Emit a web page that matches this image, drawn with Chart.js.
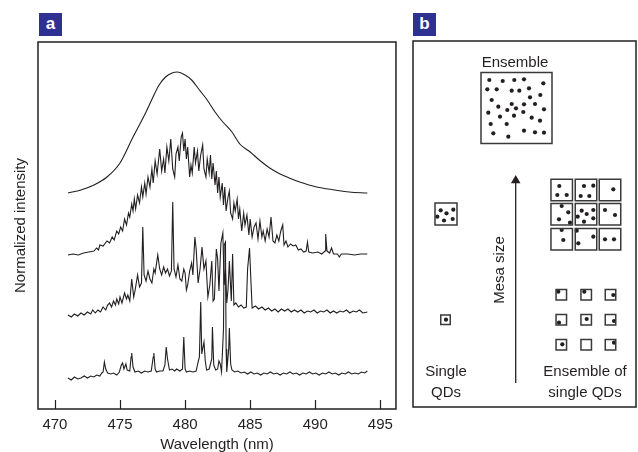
<!DOCTYPE html>
<html>
<head>
<meta charset="utf-8">
<script src="https://cdn.jsdelivr.net/npm/chart.js@4.4.0/dist/chart.umd.min.js"></script>
<style>
  body { margin: 0; background: #fff; width: 638px; height: 452px; position: relative; overflow: hidden; font-family: "Liberation Sans", Arial, sans-serif; }
  #chartA { position: absolute; left: 0; top: 0; }
  #chartB { position: absolute; left: 400px; top: 0; }
  .tag { position: absolute; top: 13px; width: 23px; height: 23px; background: #2e3192; color: #fff; font-weight: bold; font-size: 17px; line-height: 22px; text-align: center; }
</style>
</head>
<body>
<canvas id="chartA" width="400" height="452"></canvas>
<canvas id="chartB" width="238" height="452"></canvas>
<div class="tag" style="left:39px">a</div>
<div class="tag" style="left:413px">b</div>
<script>
// panel a: spectra, x = wavelength (nm), y = stacked intensity (arb. units)
const wavelengthTicks = [470, 475, 480, 485, 490, 495];

const ensembleNm = [471.0, 472.0, 473.0, 474.0, 475.0, 476.0, 477.0, 477.5, 478.0, 478.5, 479.0, 479.4, 480.0, 480.5, 481.1, 481.7, 482.3, 482.9, 483.6, 484.2, 485.0, 485.7, 486.5, 487.3, 488.0, 488.8, 490.1, 491.5, 492.6, 494.0];
const ensembleI = [216, 219, 224, 232, 246, 272, 297, 311, 324, 332, 336, 337, 334, 329, 319, 309, 297, 287, 277, 265, 257, 249, 241, 235, 231, 227, 222, 219, 217, 216];

const largeMesaNm = [471.0, 471.4, 471.8, 472.2, 472.6, 473.0, 473.2, 473.35, 473.45, 473.7, 474.0, 474.2, 474.4, 474.55, 474.75, 474.9, 475.05, 475.2, 475.35, 475.5, 475.65, 475.75, 475.9, 476.0, 476.1, 476.2, 476.35, 476.5, 476.65, 476.75, 476.9, 477.0, 477.15, 477.3, 477.45, 477.55, 477.7, 477.85, 478.05, 478.2, 478.35, 478.45, 478.6, 478.75, 478.9, 479.05, 479.2, 479.3, 479.45, 479.55, 479.7, 479.8, 479.9, 480.0, 480.1, 480.2, 480.35, 480.45, 480.55, 480.7, 480.8, 480.95, 481.05, 481.2, 481.35, 481.45, 481.6, 481.7, 481.85, 481.95, 482.05, 482.15, 482.3, 482.4, 482.5, 482.6, 482.7, 482.85, 482.95, 483.05, 483.15, 483.3, 483.4, 483.5, 483.65, 483.75, 483.85, 484.0, 484.1, 484.2, 484.35, 484.5, 484.6, 484.75, 484.9, 485.0, 485.15, 485.3, 485.45, 485.6, 485.75, 485.9, 486.0, 486.15, 486.3, 486.45, 486.6, 486.75, 486.9, 487.05, 487.2, 487.35, 487.5, 487.6, 487.75, 487.9, 488.1, 488.3, 488.5, 488.7, 488.9, 489.1, 489.3, 489.4, 489.5, 489.8, 490.2, 490.5, 490.75, 490.8, 490.9, 491.1, 491.25, 491.4, 491.7, 491.85, 492.0, 492.5, 493.0, 493.5, 494.0];
const largeMesaI = [154, 155, 154, 156, 157, 158, 161, 159, 164, 163, 168, 166, 172, 169, 178, 175, 182, 178, 190, 184, 196, 192, 205, 198, 210, 200, 214, 206, 222, 212, 226, 215, 232, 222, 240, 226, 248, 235, 260, 238, 250, 236, 262, 248, 270, 240, 232, 255, 262, 248, 272, 276, 258, 270, 250, 262, 232, 244, 236, 262, 246, 258, 238, 254, 264, 240, 232, 250, 236, 254, 230, 246, 224, 238, 216, 232, 212, 226, 204, 222, 198, 212, 218, 196, 190, 206, 198, 210, 190, 200, 178, 196, 184, 194, 174, 190, 172, 182, 186, 170, 188, 172, 178, 168, 180, 172, 192, 168, 166, 174, 168, 178, 184, 164, 168, 162, 165, 163, 164, 159, 160, 157, 158, 167, 157, 156, 157, 155, 158, 175, 158, 156, 161, 155, 155, 152, 155, 155, 154, 155, 155];

const smallMesaNm = [471.0, 471.25, 471.5, 471.75, 472.0, 472.25, 472.5, 472.75, 472.9, 473.1, 473.3, 473.5, 473.7, 473.9, 474.05, 474.2, 474.35, 474.5, 474.65, 474.75, 474.9, 475.0, 475.15, 475.35, 475.5, 475.6, 475.75, 475.9, 476.05, 476.15, 476.35, 476.5, 476.65, 476.75, 476.85, 477.0, 477.15, 477.3, 477.45, 477.6, 477.7, 477.9, 478.05, 478.2, 478.35, 478.5, 478.65, 478.8, 478.95, 479.05, 479.15, 479.3, 479.45, 479.6, 479.75, 479.9, 480.0, 480.1, 480.2, 480.35, 480.5, 480.6, 480.75, 480.85, 481.0, 481.15, 481.3, 481.45, 481.6, 481.75, 481.9, 482.05, 482.15, 482.25, 482.4, 482.5, 482.6, 482.75, 482.9, 483.0, 483.1, 483.2, 483.3, 483.4, 483.55, 483.65, 483.75, 483.9, 484.1, 484.3, 484.5, 484.7, 484.8, 484.95, 485.05, 485.15, 485.4, 485.65, 485.9, 486.15, 486.4, 486.65, 486.9, 487.15, 487.4, 487.65, 487.9, 488.15, 488.4, 488.65, 488.9, 489.15, 489.4, 489.65, 489.9, 490.15, 490.4, 490.65, 490.9, 491.15, 491.4, 491.65, 491.9, 492.15, 492.4, 492.65, 492.9, 493.15, 493.4, 493.65, 494.0];
const smallMesaI = [94, 92, 95, 93, 96, 94, 97, 95, 99, 96, 99, 97, 102, 99, 104, 106, 102, 108, 104, 110, 105, 112, 106, 116, 110, 114, 108, 130, 112, 118, 134, 122, 126, 182, 134, 128, 138, 130, 126, 140, 136, 154, 140, 134, 142, 136, 140, 133, 138, 207, 140, 132, 144, 130, 128, 140, 136, 119, 124, 138, 146, 134, 172, 160, 126, 140, 162, 140, 148, 112, 124, 148, 108, 110, 160, 150, 118, 166, 176, 124, 140, 106, 120, 148, 108, 155, 104, 106, 102, 104, 101, 102, 140, 161, 130, 101, 103, 100, 102, 99, 101, 98, 100, 97, 100, 98, 100, 97, 99, 97, 99, 96, 98, 97, 99, 96, 98, 97, 99, 96, 98, 96, 98, 97, 99, 96, 98, 97, 99, 96, 97];

const singleNm = [471.0, 471.25, 471.5, 471.75, 472.0, 472.25, 472.5, 472.75, 473.0, 473.2, 473.45, 473.6, 473.7, 473.8, 473.9, 474.05, 474.3, 474.5, 474.75, 474.95, 475.1, 475.2, 475.3, 475.45, 475.55, 475.75, 475.85, 475.9, 476.0, 476.15, 476.4, 476.65, 476.9, 477.15, 477.4, 477.55, 477.6, 477.7, 477.8, 478.05, 478.3, 478.45, 478.55, 478.65, 478.8, 479.0, 479.2, 479.35, 479.6, 479.8, 479.9, 480.0, 480.1, 480.35, 480.6, 480.85, 481.0, 481.1, 481.2, 481.28, 481.35, 481.45, 481.55, 481.65, 481.85, 482.05, 482.1, 482.2, 482.35, 482.5, 482.6, 482.7, 482.8, 482.95, 483.0, 483.1, 483.15, 483.2, 483.35, 483.4, 483.5, 483.6, 483.8, 484.05, 484.3, 484.55, 484.8, 485.05, 485.3, 485.55, 485.8, 486.05, 486.3, 486.55, 486.8, 487.05, 487.3, 487.55, 487.8, 488.05, 488.3, 488.55, 488.8, 489.05, 489.3, 489.55, 489.8, 490.05, 490.3, 490.55, 490.8, 491.05, 491.3, 491.55, 491.8, 492.05, 492.3, 492.55, 492.8, 493.05, 493.3, 493.55, 493.8, 494.0];
const singleI = [31, 29, 32, 30, 31, 33, 31, 33, 32, 34, 33, 36, 37, 47, 40, 36, 35, 36, 34, 37, 44, 46, 40, 45, 39, 38, 52, 56, 42, 37, 38, 36, 38, 37, 38, 52, 56, 40, 37, 38, 38, 44, 62, 50, 39, 40, 38, 40, 38, 40, 72, 40, 37, 38, 37, 38, 47, 52, 107, 55, 60, 67, 48, 39, 40, 50, 82, 44, 39, 40, 48, 45, 37, 80, 164, 167, 60, 37, 60, 81, 45, 39, 37, 38, 36, 37, 35, 37, 35, 36, 34, 36, 35, 37, 35, 36, 34, 36, 35, 37, 35, 36, 34, 36, 35, 37, 35, 36, 34, 36, 35, 37, 35, 36, 34, 36, 35, 37, 35, 36, 35, 37, 36, 38];

// panel b: schematic, coordinates in diagram units inside the frame
const diagramW = 223, diagramH = 366;
const mesaX = [103.5, 33, 32.5, 148.7, 173, 197, 148.7, 173, 197, 148.7, 173, 197, 148.3, 173.2, 197.5, 148.3, 173.2, 197.5, 148.3, 173.2, 197.5];
const mesaY = [67, 173, 278.7, 149, 149, 149, 173.2, 173.2, 173.2, 198.2, 198.2, 198.2, 253.7, 253.7, 253.7, 278.7, 278.7, 278.7, 303.7, 303.7, 303.7];
const mesaSide = [71, 22, 9.5, 21.5, 21.5, 21.5, 21.5, 21.5, 21.5, 21.5, 21.5, 21.5, 10.5, 10.5, 10.5, 10.5, 10.5, 10.5, 10.5, 10.5, 10.5];

const dotX = [76.3, 89.7, 101.3, 111, 130.3, 74.3, 83.7, 98.7, 106.3, 116, 127.3, 78.7, 85.3, 98.7, 103, 111, 117, 122, 131, 75.3, 87, 94.3, 101, 110.3, 118.7, 77.7, 93.7, 127, 80.3, 95.3, 111, 122, 131,
  27.7, 33.5, 40.3, 24.3, 31, 39.7, 33,
  146.3, 144.3, 153.7, 171, 180.3, 167.7, 176.3, 200.3, 148.7, 155.3, 146, 157, 168.7, 173.7, 180.3, 164.7, 171, 180.3, 192, 202, 148.7, 150.3, 163.7, 180.3, 165.3, 192, 201,
  145.3, 171.3, 200.3, 146, 173.7, 201, 149.3, 201];
const dotY = [39, 40, 39, 38.3, 42.3, 48.3, 48.3, 49.7, 49.7, 47.3, 54, 59, 65.7, 63, 67.3, 63.3, 56.3, 63, 68.3, 71.7, 75.7, 69, 74.7, 71, 76.7, 83, 83, 79.7, 92.3, 95.7, 89.7, 91.3, 91.7,
  169.3, 172.3, 168.7, 175.7, 179.5, 178, 278.7,
  145, 154, 154, 145, 144.7, 155, 155, 148.3, 165, 171.3, 178.3, 181.7, 169.7, 173, 169, 175.7, 180.7, 177.3, 169, 174, 189, 199, 189.7, 195.7, 202.3, 198.3, 198.3,
  250.7, 250.7, 254, 281.7, 278, 280, 303.3, 301.7];

const arrowX = [102.7, 102.7];
const arrowY = [342, 137];

const labelText = ['Ensemble', 'Single', 'QDs', 'Ensemble of', 'single QDs', 'Mesa size'];
const labelX = [102, 33, 33, 172, 172, 87];
const labelY = [22, 330.7, 352.3, 330.7, 352.3, 229];
const labelAngle = [0, 0, 0, 0, 0, -90];

const ink = '#231f20';
const fontFamily = '"Liberation Sans", Arial, sans-serif';

function spectrum(nm, inten, smooth) {
  return {
    data: nm.map((x, i) => ({ x: x, y: inten[i] })),
    borderColor: ink,
    borderWidth: 1.1,
    pointRadius: 0,
    fill: false,
    tension: smooth ? 0.4 : 0,
    cubicInterpolationMode: smooth ? 'monotone' : 'default'
  };
}

const frameA = {
  id: 'frameA',
  afterDraw(chart) {
    const { ctx, chartArea: a, scales: { x } } = chart;
    ctx.save();
    ctx.strokeStyle = ink;
    ctx.lineWidth = 1.5;
    ctx.strokeRect(a.left, a.top, a.right - a.left, a.bottom - a.top);
    ctx.lineWidth = 1.2;
    wavelengthTicks.forEach(v => {
      const px = Math.round(x.getPixelForValue(v)) + 0.5;
      ctx.beginPath();
      ctx.moveTo(px, a.bottom);
      ctx.lineTo(px, a.bottom - 9);
      ctx.stroke();
    });
    ctx.restore();
  }
};

new Chart(document.getElementById('chartA'), {
  type: 'line',
  data: {
    datasets: [
      spectrum(ensembleNm, ensembleI, true),
      spectrum(largeMesaNm, largeMesaI, false),
      spectrum(smallMesaNm, smallMesaI, false),
      spectrum(singleNm, singleI, false)
    ]
  },
  options: {
    responsive: false,
    animation: false,
    events: [],
    layout: { autoPadding: false, padding: { top: 42, right: 3, left: 0, bottom: 0 } },
    plugins: { legend: { display: false }, tooltip: { enabled: false } },
    scales: {
      x: {
        type: 'linear',
        min: 468.7,
        max: 496.2,
        afterBuildTicks: s => { s.ticks = wavelengthTicks.map(v => ({ value: v })); },
        afterFit: s => { s.height = 43; },
        grid: { display: false, drawTicks: false },
        border: { display: false },
        ticks: { color: ink, font: { size: 15, family: fontFamily }, padding: 7, autoSkip: false, maxRotation: 0 },
        title: { display: true, text: 'Wavelength (nm)', color: ink, font: { size: 15, family: fontFamily, lineHeight: 0.9 }, padding: { top: 0, bottom: 0 } }
      },
      y: {
        min: 0,
        max: 367,
        afterFit: s => { s.width = 38; },
        grid: { display: false, drawTicks: false },
        border: { display: false },
        ticks: { display: false },
        title: { display: true, text: 'Normalized intensity', color: ink, font: { size: 15, family: fontFamily }, padding: { top: 12, bottom: 0 } }
      }
    }
  },
  plugins: [frameA]
});

const frameB = {
  id: 'frameB',
  afterDatasetsDraw(chart) {
    const { ctx, chartArea: a, scales: { x, y } } = chart;
    ctx.save();
    ctx.strokeStyle = ink;
    ctx.lineWidth = 1.5;
    ctx.strokeRect(a.left, a.top, a.right - a.left, a.bottom - a.top);
    ctx.fillStyle = ink;
    ctx.font = '15px ' + fontFamily;
    ctx.textAlign = 'center';
    ctx.textBaseline = 'middle';
    labelText.forEach((t, i) => {
      ctx.save();
      ctx.translate(x.getPixelForValue(labelX[i]), y.getPixelForValue(labelY[i]));
      ctx.rotate(labelAngle[i] * Math.PI / 180);
      ctx.fillText(t, 0, 0);
      ctx.restore();
    });
    ctx.restore();
  }
};

new Chart(document.getElementById('chartB'), {
  type: 'scatter',
  data: {
    datasets: [
      {
        data: mesaX.map((v, i) => ({ x: v, y: mesaY[i] })),
        pointStyle: 'rect',
        pointRadius: mesaSide.map(s => s / Math.SQRT2),
        borderColor: '#3a3a3a',
        borderWidth: 1.5,
        backgroundColor: 'rgba(0,0,0,0)'
      },
      {
        data: dotX.map((v, i) => ({ x: v, y: dotY[i] })),
        pointStyle: 'circle',
        pointRadius: 2.1,
        borderWidth: 0,
        backgroundColor: ink
      },
      {
        data: arrowX.map((v, i) => ({ x: v, y: arrowY[i] })),
        showLine: true,
        borderColor: ink,
        borderWidth: 1.3,
        pointRadius: 0
      },
      {
        data: [{ x: arrowX[1], y: arrowY[1] + 2.5 }],
        pointStyle: 'triangle',
        pointRadius: 5.5,
        borderWidth: 0,
        backgroundColor: ink
      }
    ]
  },
  options: {
    responsive: false,
    animation: false,
    events: [],
    layout: { autoPadding: false, padding: { top: 41, right: 2, left: 13, bottom: 45 } },
    plugins: { legend: { display: false }, tooltip: { enabled: false } },
    scales: {
      x: { display: false, min: 0, max: diagramW },
      y: { display: false, min: 0, max: diagramH, reverse: true }
    }
  },
  plugins: [frameB]
});
</script>
</body>
</html>
